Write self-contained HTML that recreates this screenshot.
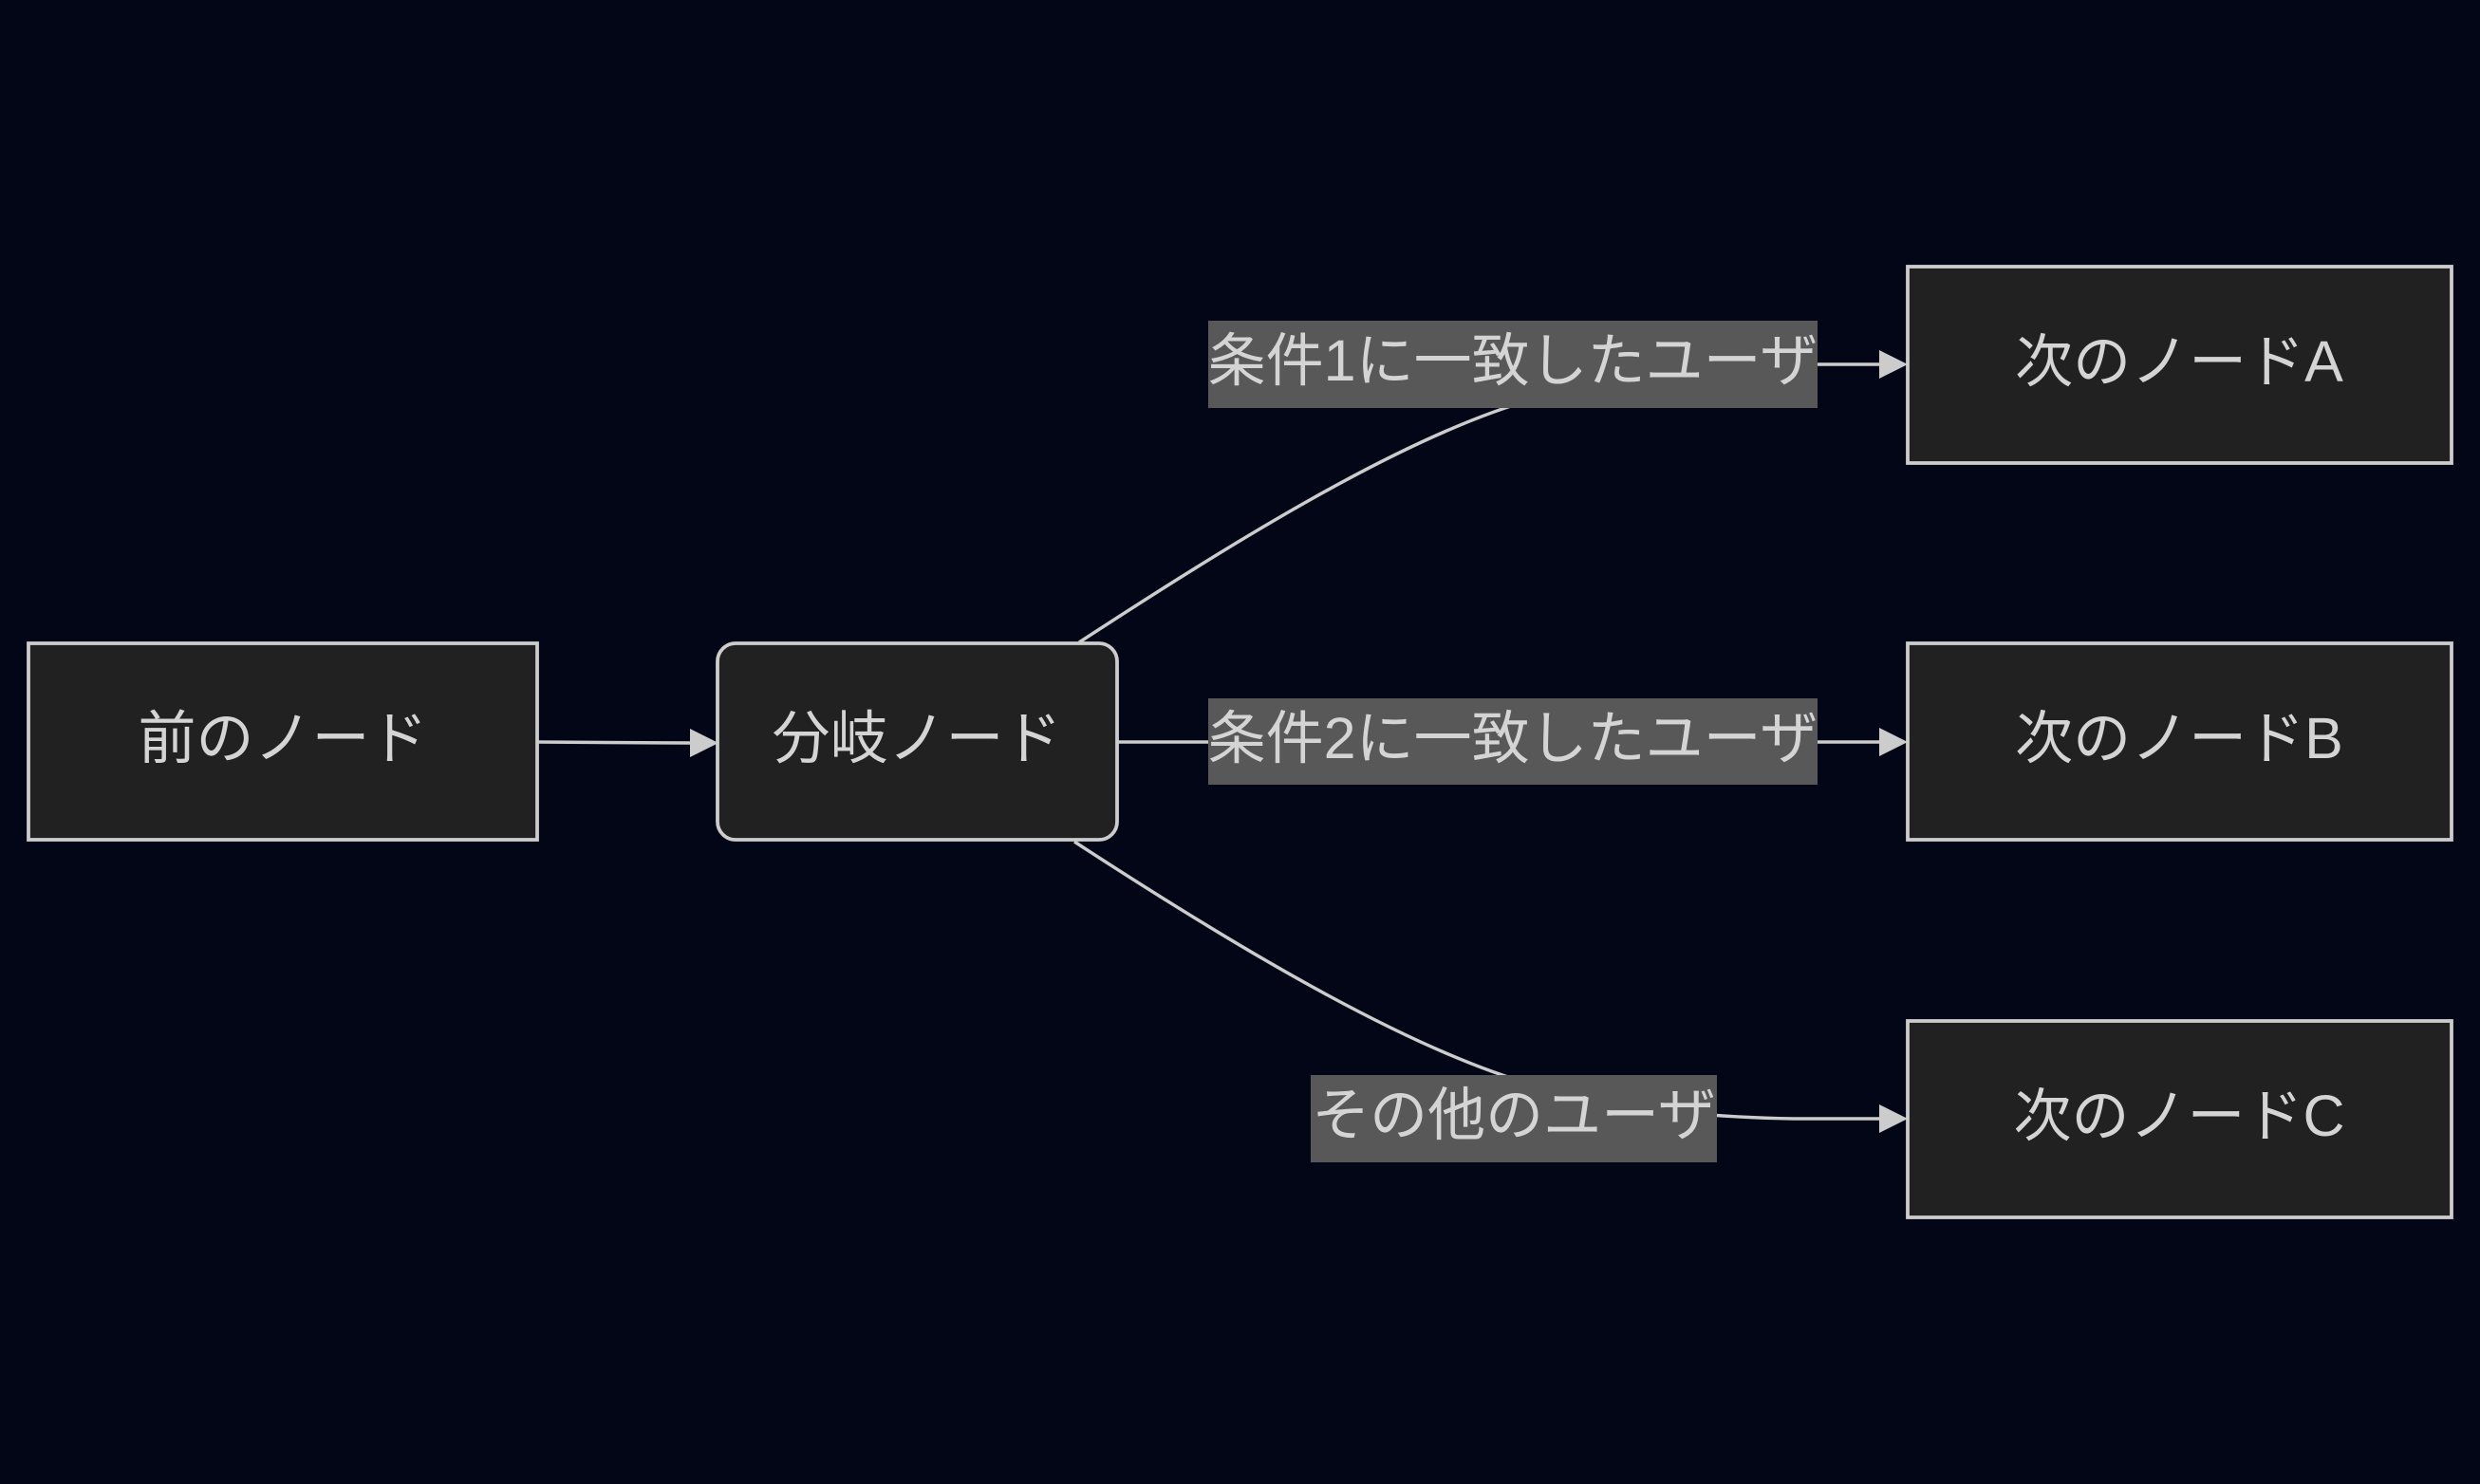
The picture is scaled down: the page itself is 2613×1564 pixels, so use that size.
<!DOCTYPE html>
<html>
<head>
<meta charset="utf-8">
<style>
  html, body { margin: 0; padding: 0; background: #020617; }
  body { width: 2613px; height: 1564px; overflow: hidden; }
  svg { display: block; }
  text { font-family: "Liberation Sans", "Noto Sans CJK JP", sans-serif; font-size: 61px; fill: #d4d4d4; }
</style>
</head>
<body>
<svg width="2613" height="1564" viewBox="0 0 2613 1564" xmlns="http://www.w3.org/2000/svg">
  <rect x="0" y="0" width="2613" height="1564" fill="#020617"/>

  <!-- edges -->
  <g fill="none" stroke="#cccccc" stroke-width="3.5">
    <path d="M566,782 C640,782 680,783 730,783"/>
    <path d="M1177,782 L1985,782"/>
    <path d="M1137,677 C1295,574 1480,458 1618,420 C1710,396 1785,386 1890,384 L1985,384"/>
    <path d="M1132,887 C1290,990 1480,1106 1618,1144 C1710,1168 1785,1177 1890,1179 L1985,1179"/>
  </g>
  <!-- arrowheads -->
  <g fill="#cccccc">
    <polygon points="727,768 757,783 727,798"/>
    <polygon points="1980,767 2010,782 1980,797"/>
    <polygon points="1980,369 2010,384 1980,399"/>
    <polygon points="1980,1164 2010,1179 1980,1194"/>
  </g>

  <!-- nodes -->
  <g fill="#212121" stroke="#cccccc" stroke-width="3.8">
    <rect x="30" y="678" width="536" height="207"/>
    <rect x="756" y="678" width="421" height="207" rx="19" ry="19"/>
    <rect x="2010" y="281" width="573" height="207"/>
    <rect x="2010" y="678" width="573" height="207"/>
    <rect x="2010" y="1076" width="573" height="207"/>
  </g>

  <!-- edge labels -->
  <g fill="#585858">
    <rect x="1273" y="338" width="642" height="92"/>
    <rect x="1273" y="736" width="642" height="91"/>
    <rect x="1381" y="1133" width="428" height="92"/>
  </g>

  <!-- texts -->
  <g text-anchor="middle">
    <text x="298" y="799">前のノード</text>
    <text x="966" y="799">分岐ノード</text>
    <text x="2296" y="402">次のノードA</text>
    <text x="2296" y="799">次のノードB</text>
    <text x="2296" y="1197">次のノードC</text>
    <text x="1594" y="401">条件1に一致したユーザ</text>
    <text x="1594" y="799">条件2に一致したユーザ</text>
    <text x="1595" y="1196">その他のユーザ</text>
  </g>
</svg>
</body>
</html>
